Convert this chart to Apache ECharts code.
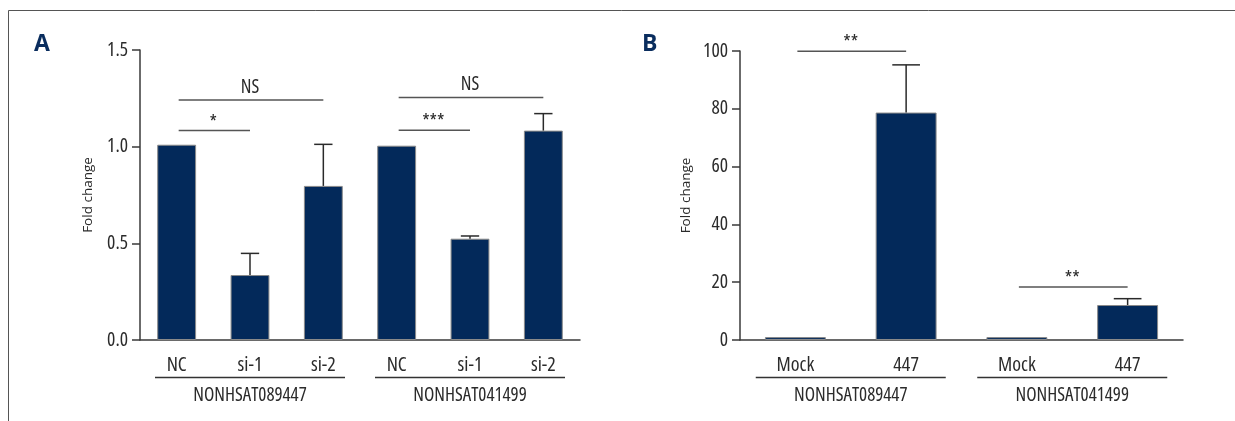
<!DOCTYPE html>
<html>
<head>
<meta charset="utf-8">
<script src="https://cdn.jsdelivr.net/npm/echarts@6/dist/echarts.min.js"></script>
<style>
html,body{margin:0;padding:0;background:#fff;}
#chart{width:1235px;height:421px;}
</style>
</head>
<body>
<div id="chart"></div>
<script>
// ---------- data ----------
const catsA = ['NC', 'si-1', 'si-2', 'NC', 'si-1', 'si-2'];
const valsA = [1.01, 0.336, 0.797, 1.005, 0.524, 1.083];
const errA  = [0, 0.112, 0.215, 0, 0.014, 0.088];
const groupsA = [['NONHSAT089447', 0, 2], ['NONHSAT041499', 3, 5]];
const sigA = [[0, 2, 1.242, 'NS'], [0, 1, 1.083, '*'], [3, 5, 1.254, 'NS'], [3, 4, 1.085, '***']];
const yTicksA = [0, 0.5, 1.0, 1.5];

const catsB = ['Mock', '447', 'Mock', '447'];
const valsB = [1.0, 78.7, 1.0, 12.1];
const errB  = [0, 16.5, 0, 2.2];
const groupsB = [['NONHSAT089447', 0, 1], ['NONHSAT041499', 2, 3]];
const sigB = [[0, 1, 99.9, '**'], [2, 3, 18.3, '**']];
const yTicksB = [0, 20, 40, 60, 80, 100];

// ---------- style ----------
const FAM = "'Open Sans','Liberation Sans',sans-serif";
const COND = 'condensed';
const NAVY = '#03295a';
const TXT = '#2b2b2b';
const AX = '#3a3a3a';

function errRender(params, api) {
  const i = api.value(0), v = api.value(1), e = api.value(2);
  if (!e) return null;
  const p0 = api.coord([i, v]);
  const p1 = api.coord([i, v + e]);
  const band = api.size([1, 0])[0];
  const cw = band * 0.25;
  const st = { stroke: '#2a2a2a', lineWidth: 1.5 };
  return { type: 'group', children: [
    { type: 'line', shape: { x1: p0[0], y1: p0[1], x2: p1[0], y2: p1[1] }, style: st },
    { type: 'line', shape: { x1: p1[0] - cw / 2, y1: p1[1], x2: p1[0] + cw / 2, y2: p1[1] }, style: st }
  ]};
}
function sigRender(params, api) {
  const a = api.coord([api.value(0), api.value(2)]);
  const b = api.coord([api.value(1), api.value(2)]);
  const label = sigData[params.seriesIndex][params.dataIndex][3];
  const star = label.indexOf('*') >= 0;
  return { type: 'group', children: [
    { type: 'line', shape: { x1: a[0] + 2, y1: a[1], x2: b[0], y2: a[1] }, style: { stroke: '#555', lineWidth: 1.5 } },
    { type: 'text', x: (a[0] + b[0]) / 2, y: a[1] - (star ? -2 : 3),
      style: { text: label, font: COND + ' 19px ' + FAM, fill: TXT, align: 'center', verticalAlign: 'bottom' } }
  ]};
}
function groupRender(params, api) {
  const a = api.coord([api.value(1), 0]);
  const b = api.coord([api.value(2), 0]);
  const cx = (a[0] + b[0]) / 2;
  const label = grpData[params.seriesIndex][params.dataIndex][0];
  return { type: 'group', children: [
    { type: 'line', shape: { x1: cx - 95, y1: a[1] + 37.5, x2: cx + 95, y2: a[1] + 37.5 }, style: { stroke: '#333', lineWidth: 1.5 } },
    { type: 'text', x: cx, y: a[1] + 46, style: { text: label, font: COND + ' 19px ' + FAM, fill: TXT, align: 'center', verticalAlign: 'top' } }
  ]};
}

const sigData = {};
const grpData = {};

function xAxis(idx, cats) {
  return {
    type: 'category', gridIndex: idx, data: cats,
    axisLine: { lineStyle: { color: AX, width: 1.5 } },
    axisTick: { alignWithLabel: true, length: 6, lineStyle: { color: AX, width: 1.5 } },
    axisLabel: { fontFamily: FAM, fontWeight: COND, fontSize: 20, color: TXT, margin: 15 }
  };
}
function yAxis(idx, ticks, fmt, gap) {
  return {
    type: 'value', gridIndex: idx, min: ticks[0], max: ticks[ticks.length - 1],
    interval: ticks[1] - ticks[0],
    name: 'Fold change', nameLocation: 'middle', nameGap: gap,
    nameTextStyle: { fontFamily: FAM, fontSize: 13.5, color: TXT },
    axisLine: { show: true, lineStyle: { color: AX, width: 1.5 } },
    axisTick: { show: true, length: 8, lineStyle: { color: AX, width: 1.5 } },
    axisLabel: { fontFamily: FAM, fontWeight: COND, fontSize: 19.5, color: TXT, margin: 12, formatter: fmt },
    splitLine: { show: false }
  };
}

const series = [];
function addPanel(gi, vals, errs, sig, grps, bw) {
  series.push({
    type: 'bar', xAxisIndex: gi, yAxisIndex: gi, data: vals, barWidth: bw,
    itemStyle: { color: NAVY, borderColor: '#8a8a8a', borderWidth: 1 }, silent: true
  });
  series.push({
    type: 'custom', xAxisIndex: gi, yAxisIndex: gi, renderItem: errRender,
    data: vals.map((v, i) => [i, v, errs[i]]), z: 3, silent: true
  });
  sigData[series.length] = sig;
  series.push({
    type: 'custom', xAxisIndex: gi, yAxisIndex: gi, renderItem: sigRender,
    data: sig.map(s => [s[0], s[1], s[2]]), z: 3, silent: true
  });
  grpData[series.length] = grps;
  series.push({
    type: 'custom', xAxisIndex: gi, yAxisIndex: gi, renderItem: groupRender,
    data: grps.map(g => [0, g[1], g[2]]), z: 3, silent: true
  });
}
addPanel(0, valsA, errA, sigA, groupsA, '53%');
addPanel(1, valsB, errB, sigB, groupsB, '55%');

const chart = echarts.init(document.getElementById('chart'), null, { renderer: 'canvas' });
chart.setOption({
  animation: false,
  backgroundColor: '#ffffff',
  grid: [
    { left: 140, top: 50, width: 440, height: 290 },
    { left: 740, top: 51, width: 443, height: 289 }
  ],
  xAxis: [xAxis(0, catsA), xAxis(1, catsB)],
  yAxis: [
    yAxis(0, yTicksA, v => v.toFixed(1), 45),
    yAxis(1, yTicksB, v => String(v), 47)
  ],
  graphic: [
    { type: 'line', shape: { x1: 8.5, y1: 10.5, x2: 1235, y2: 10.5 }, style: { stroke: '#555', lineWidth: 1 } },
    { type: 'line', shape: { x1: 8.5, y1: 10.5, x2: 8.5, y2: 421 }, style: { stroke: '#555', lineWidth: 1 } },
    { type: 'text', left: 34, top: 33, style: { text: 'A', font: 'bold 23px ' + FAM, fill: '#0a2d5e' } },
    { type: 'text', left: 642, top: 33, style: { text: 'B', font: 'bold 23px ' + FAM, fill: '#0a2d5e' } }
  ],
  series: series
});
</script>
</body>
</html>
